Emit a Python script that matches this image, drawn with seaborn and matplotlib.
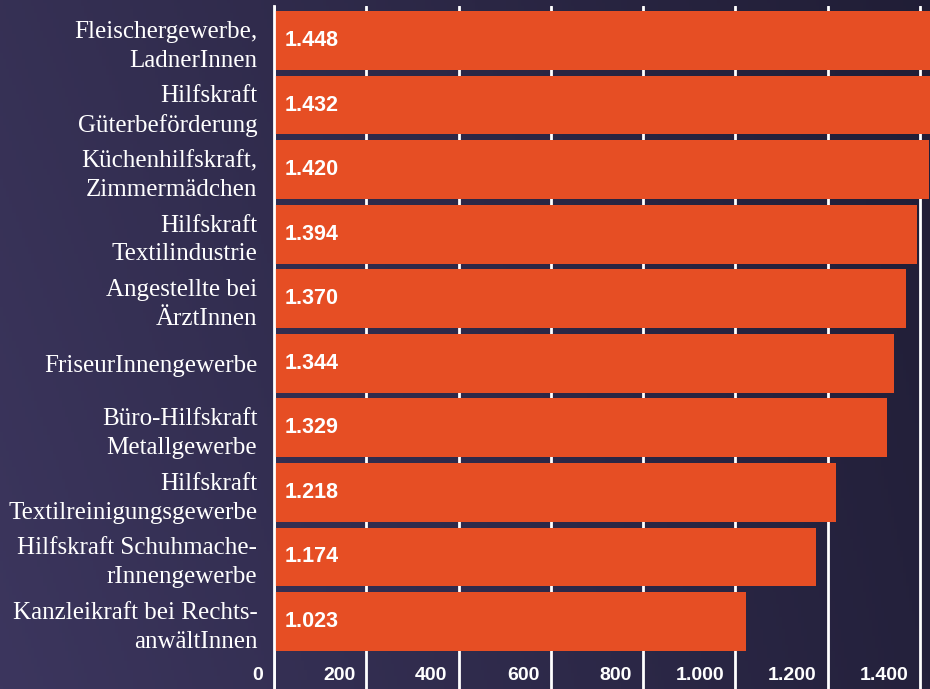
import numpy as np
import pandas as pd
import seaborn as sns
import matplotlib
matplotlib.use("Agg")
import matplotlib.pyplot as plt
from matplotlib.transforms import offset_copy

# data
categories = [
    "Fleischergewerbe,\nLadnerInnen",
    "Hilfskraft\nGüterbeförderung",
    "Küchenhilfskraft,\nZimmermädchen",
    "Hilfskraft\nTextilindustrie",
    "Angestellte bei\nÄrztInnen",
    "FriseurInnengewerbe",
    "Büro-Hilfskraft\nMetallgewerbe",
    "Hilfskraft\nTextilreinigungsgewerbe",
    "Hilfskraft Schuhmache-\nrInnengewerbe",
    "Kanzleikraft bei Rechts-\nanwältInnen",
]
values = [1448, 1432, 1420, 1394, 1370, 1344, 1329, 1218, 1174, 1023]
xticks = [0, 200, 400, 600, 800, 1000, 1200, 1400]


def de_fmt(v):
    return f"{v:,}".replace(",", ".")


df = pd.DataFrame({"Beruf": categories, "Wert": values})

sns.set_theme(style="white")
plt.rcParams["font.family"] = ["Liberation Sans", "DejaVu Sans"]

fig = plt.figure(figsize=(9.3, 6.89), dpi=100)

# dark purple background, lighter on the left
bg = fig.add_axes([0, 0, 1, 1], zorder=-5)
gx, gy = np.meshgrid(np.linspace(0, 1, 300), np.linspace(0, 1, 220))
left = np.array([60, 54, 94]) / 255
right = np.array([36, 33, 60]) / 255
img = left[None, None, :] * (1 - gx[..., None]) + right[None, None, :] * gx[..., None]
img = img * (0.90 + 0.10 * gy[..., None])
bg.imshow(img, aspect="auto", extent=[0, 1, 0, 1], origin="upper")
bg.axis("off")

ax = fig.add_axes([274 / 930, 0, 656 / 930, 683 / 689])
ax.set_facecolor("none")

sns.barplot(data=df, x="Wert", y="Beruf", orient="h", color="#E64E24",
            saturation=1, width=0.91, linewidth=0, ax=ax, zorder=3)

ax.set_xlim(0, 1422)
ax.set_ylim(10.045, -0.534)
ax.set_xlabel("")
ax.set_ylabel("")

ax.set_xticks(xticks)
ax.xaxis.grid(True, color="white", linewidth=2)
ax.set_axisbelow(True)
ax.tick_params(axis="x", length=0, labelbottom=False)
ax.tick_params(axis="y", length=0, pad=12)
for lab in ax.get_yticklabels():
    lab.set_fontfamily(["Liberation Serif", "DejaVu Serif"])
    lab.set_fontsize(18)
    lab.set_color("white")
    lab.set_linespacing(1.4)

for s in ["top", "right", "bottom"]:
    ax.spines[s].set_visible(False)
ax.spines["left"].set_color("white")
ax.spines["left"].set_linewidth(2)
ax.spines["left"].set_zorder(5)

# x tick labels sit left of their gridline
tr = offset_copy(ax.transData, fig=fig, x=-11, y=0, units="dots")
for t in xticks:
    ax.text(t, 9.83, de_fmt(t), transform=tr, ha="right", va="center",
            color="white", fontsize=14, fontweight="bold")

# value labels at the start of each bar
tv = offset_copy(ax.transData, fig=fig, x=11, y=0, units="dots")
for i, v in enumerate(values):
    ax.text(0, i, de_fmt(v), transform=tv, ha="left", va="center",
            color="white", fontsize=15.5, fontweight="bold", zorder=6)

fig.savefig("out.png", dpi=100)
